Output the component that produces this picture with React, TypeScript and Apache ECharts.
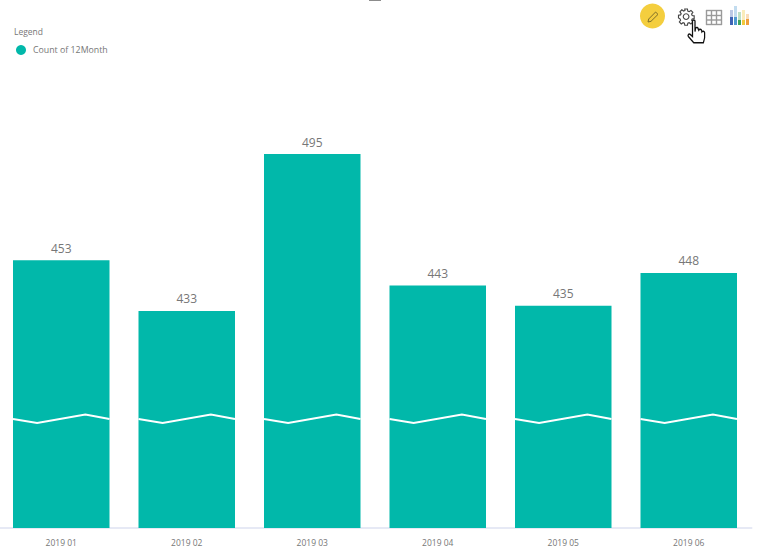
import React, { useEffect, useRef } from "react";
import * as echarts from "echarts";

const categories = ["2019 01", "2019 02", "2019 03", "2019 04", "2019 05", "2019 06"];
const counts = [453, 433, 495, 443, 435, 448];
const seriesName = "Count of 12Month";
const legendTitle = "Legend";
const axisMin = 347.2;
const axisMax = 495;
const breakValue = 390.3;
const breakFractions = [-0.5, -0.25, 0.25, 0.5];
const breakOffsets = [0, 4, -4.5, 0];
const TEAL = "#01B8AA";
const FONT = "'Open Sans', 'Noto Sans', sans-serif";

echarts.graphic.registerShape(
  "gearIcon",
  echarts.graphic.extendPath(
    "M6.6 0h2.8l.4 2.2 1.4.6 1.9-1.3 2 2-1.3 1.9.6 1.4 2.1.4v2.8l-2.1.4-.6 1.4 1.3 1.9-2 2-1.9-1.3-1.4.6-.4 2.1H6.6l-.4-2.1-1.4-.6-1.9 1.3-2-2 1.3-1.9-.6-1.4L0 9.4V6.6l2.2-.4.6-1.4-1.3-1.9 2-2 1.9 1.3 1.4-.6z M8 5a3 3 0 1 0 .01 0z",
    {}
  )
);
echarts.graphic.registerShape(
  "handIcon",
  echarts.graphic.extendPath(
    "M4 1.5C4 .5 6 .5 6 1.5V9l.5-2.6c.8-.7 2-.3 2 .6L9 8c.5-1 2-.8 2.3.3l.2.9c.6-.8 2-.5 2.2.5 .3 2.500 0 5-1 7.300H5L.7 12.500c-.7-1 .3-2.300 1.500-1.500L4 12.500z",
    {}
  )
);

function iconGraphics() {
  const grid: any[] = [];
  [706.5, 711.5, 716.5, 721.5].forEach((x) =>
    grid.push({ type: "line", shape: { x1: x, y1: 10, x2: x, y2: 25 }, style: { stroke: "#9a9a9a", lineWidth: 1.4 } })
  );
  [10.5, 15.5, 20, 24.5].forEach((y) =>
    grid.push({ type: "line", shape: { x1: 706, y1: y, x2: 722, y2: y }, style: { stroke: "#9a9a9a", lineWidth: 1.4 } })
  );
  const bars: [number, number, string, number][] = [
    [730, 10, "#3f63b5", 7],
    [734, 6, "#4f9bd0", 11],
    [738, 12, "#3fa45c", 8],
    [742, 10, "#f0c93c", 10],
    [746, 14, "#ef9f3c", 5],
  ];
  const barEls = bars.flatMap(([x, y, fill, pale]) => [
    { type: "rect", shape: { x, y, width: 3, height: 25 - y }, style: { fill, opacity: 0.35 } },
    { type: "rect", shape: { x, y: y + pale, width: 3, height: 25 - y - pale }, style: { fill } },
  ]);
  return [
    { type: "rect", shape: { x: 369, y: 0, width: 12, height: 1 }, style: { fill: "#8c8c8c" } },
    { type: "circle", shape: { cx: 652.5, cy: 16, r: 12.5 }, style: { fill: "#F4CE3E" } },
    {
      type: "polygon",
      shape: { points: [[648, 22], [648.7, 19], [655.6, 12], [658, 14.4], [651, 21.3]] },
      style: { fill: "#F4CE3E", stroke: "#7f6f2a", lineWidth: 1 },
    },
    { type: "gearIcon", x: 678.5, y: 9, scaleX: 0.95, scaleY: 0.95, style: { fill: "none", stroke: "#444444", lineWidth: 1.2 } },
    ...grid,
    ...barEls,
    { type: "handIcon", x: 687.5, y: 19, scaleX: 1.25, scaleY: 1.4, z: 10, style: { fill: "#ffffff", stroke: "#111111", lineWidth: 1 } },
    { type: "text", x: 14, y: 27, style: { text: legendTitle, font: `8.5px ${FONT}`, fill: "#777777" } },
  ];
}

export default function App() {
  const ref = useRef<HTMLDivElement>(null);
  useEffect(() => {
    const chart = echarts.init(ref.current!, undefined, { renderer: "svg" });
    chart.setOption({
      animation: false,
      backgroundColor: "#ffffff",
      grid: { left: -1.5, top: 154, width: 753, height: 374, containLabel: false, outerBoundsMode: "none" },
      legend: {
        show: true,
        left: 11,
        top: 40,
        itemWidth: 10,
        itemHeight: 10,
        itemGap: 8,
        icon: "circle",
        textStyle: { fontFamily: FONT, fontSize: 8.8, color: "#777777", padding: [0, 0, 0, 2] },
        data: [seriesName],
      },
      xAxis: {
        type: "category",
        data: categories,
        axisTick: { show: false },
        axisLine: { show: true, lineStyle: { color: "#E6E9F5", width: 2 } },
        axisLabel: { fontFamily: FONT, fontSize: 8.5, color: "#777777", margin: 10 },
      },
      yAxis: { type: "value", min: axisMin, max: axisMax, show: false, splitLine: { show: false } },
      series: [
        {
          name: seriesName,
          type: "bar",
          data: counts,
          barWidth: 96.5,
          itemStyle: { color: TEAL },
          label: { show: true, position: "top", distance: 6, fontFamily: FONT, fontSize: 12, color: "#777777" },
        },
        {
          type: "custom",
          silent: true,
          z: 5,
          legendHoverLink: false,
          data: categories.map((_, i) => [i, breakValue]),
          encode: { x: 0, y: 1 },
          renderItem: (_: any, api: any) => {
            const [cx, cy] = api.coord([api.value(0), api.value(1)]);
            const bw = 96.5;
            return {
              type: "polyline",
              shape: { points: breakFractions.map((f, i) => [cx + f * bw, cy + breakOffsets[i]]) },
              style: { stroke: "#ffffff", lineWidth: 2, fill: "none" },
            };
          },
        },
      ],
      graphic: { elements: iconGraphics() },
    });
    return () => chart.dispose();
  }, []);
  return <div ref={ref} style={{ position: "fixed", left: 0, top: 0, width: 760, height: 560 }} />;
}
